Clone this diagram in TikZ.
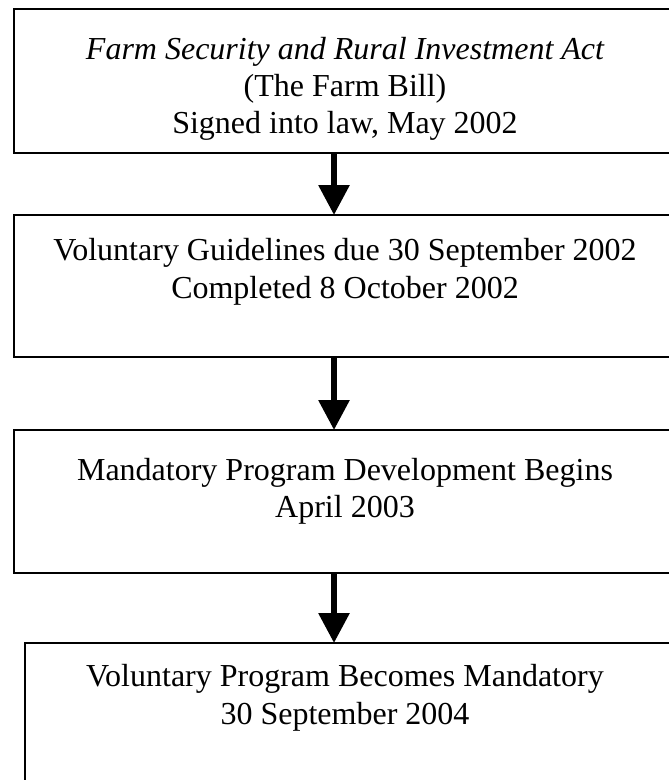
\documentclass[tikz,border=0pt]{standalone}
\usepackage{fontspec}
\setmainfont{Liberation Serif}
\usetikzlibrary{arrows.meta}
\begin{document}
\begin{tikzpicture}[x=1pt,y=-1pt,
  box/.style={draw, line width=1.7pt, inner sep=0pt, outer sep=0pt, anchor=north west, rectangle},
  txt/.style={anchor=base, inner sep=0pt, font=\fontsize{32}{37}\selectfont},
  arr/.style={line width=6pt, -{Triangle[width=30pt,length=30pt]}}]
\useasboundingbox (0,0) rectangle (669,780);
\clip (0,0) rectangle (669,780);
\fill[white] (0,0) rectangle (669,780);
\node[box, line width=2pt, minimum width=662pt, minimum height=144pt] (b1) at (14,9) {};
\node[box, minimum width=662pt, minimum height=142pt] (b2) at (14,215) {};
\node[box, minimum width=662pt, minimum height=143pt] (b3) at (14,430) {};
\node[box, minimum width=665pt, minimum height=150pt] (b4) at (25,643) {};
\coordinate (ax) at (334,0);
\draw[arr] (b1.south -| ax) -- (b2.north -| ax);
\draw[arr] (b2.south -| ax) -- (b3.north -| ax);
\draw[arr] (b3.south -| ax) -- (b4.north -| ax);
\node[txt] (t1a) at (345,59) {\itshape Farm Security and Rural Investment Act};
\node[txt] (t1b) at (345,96) {(The Farm Bill)};
\node[txt] (t1c) at (345,133) {Signed into law, May 2002};
\node[txt] (t2a) at (345,260) {Voluntary Guidelines due 30 September 2002};
\node[txt] (t2b) at (345,298) {Completed 8 October 2002};
\node[txt] (t3a) at (345,480) {Mandatory Program Development Begins};
\node[txt] (t3b) at (345,517) {April 2003};
\node[txt] (t4a) at (345,686) {Voluntary Program Becomes Mandatory};
\node[txt] (t4b) at (345,724) {30 September 2004};
\end{tikzpicture}
\end{document}
